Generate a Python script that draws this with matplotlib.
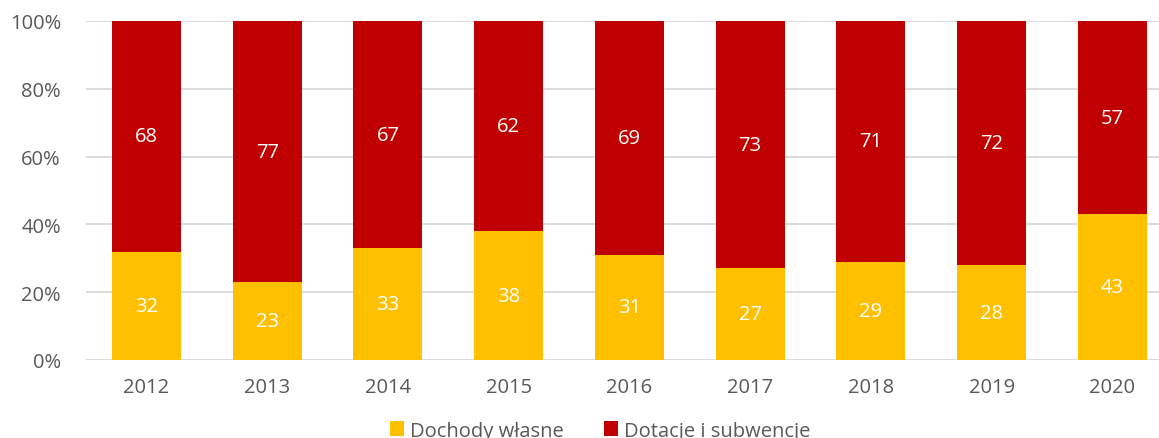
import numpy as np
import matplotlib.pyplot as plt

plt.rcParams['font.family'] = ['Open Sans', 'DejaVu Sans']

years = ['2012', '2013', '2014', '2015', '2016', '2017', '2018', '2019', '2020']
dochody = [32, 23, 33, 38, 31, 27, 29, 28, 43]
dotacje = [68, 77, 67, 62, 69, 73, 71, 72, 57]

fig = plt.figure(figsize=(11.59, 4.39), dpi=100)
ax = fig.add_axes([0.0742, 0.1777, 0.9258, 0.7722])

x = np.arange(len(years))
w = 0.57
ax.bar(x, dochody, w, color='#FFC000', label='Dochody własne', zorder=3)
ax.bar(x, dotacje, w, bottom=dochody, color='#C00000', label='Dotacje i subwencje', zorder=3)

# value labels in the middle of each segment
for i in range(len(years)):
    ax.text(x[i], dochody[i] / 2, str(dochody[i]), ha='center', va='center',
            color='white', fontsize=14.5, zorder=4)
    ax.text(x[i], dochody[i] + dotacje[i] / 2, str(dotacje[i]), ha='center', va='center',
            color='white', fontsize=14.5, zorder=4)

ax.set_ylim(0, 100)
ax.set_xlim(-0.5, 8.386)
ax.set_yticks(range(0, 101, 20))
ax.set_yticklabels([f'{v}%' for v in range(0, 101, 20)])
ax.set_xticks(x)
ax.set_xticklabels(years)
ax.tick_params(length=0, labelsize=14.5, colors='#595959')
ax.tick_params(axis='x', pad=12)
ax.tick_params(axis='y', pad=18)
ax.grid(axis='y', color='#D9D9D9', linewidth=1.3, zorder=0)
for s in ax.spines.values():
    s.set_visible(False)

fig.legend(loc='center', bbox_to_anchor=(0.518, 0.017), ncol=2, frameon=False,
           fontsize=14.5, labelcolor='#595959', handlelength=0.7, handleheight=0.7,
           handletextpad=0.3, columnspacing=2.0)

fig.savefig('out.png', dpi=100)
